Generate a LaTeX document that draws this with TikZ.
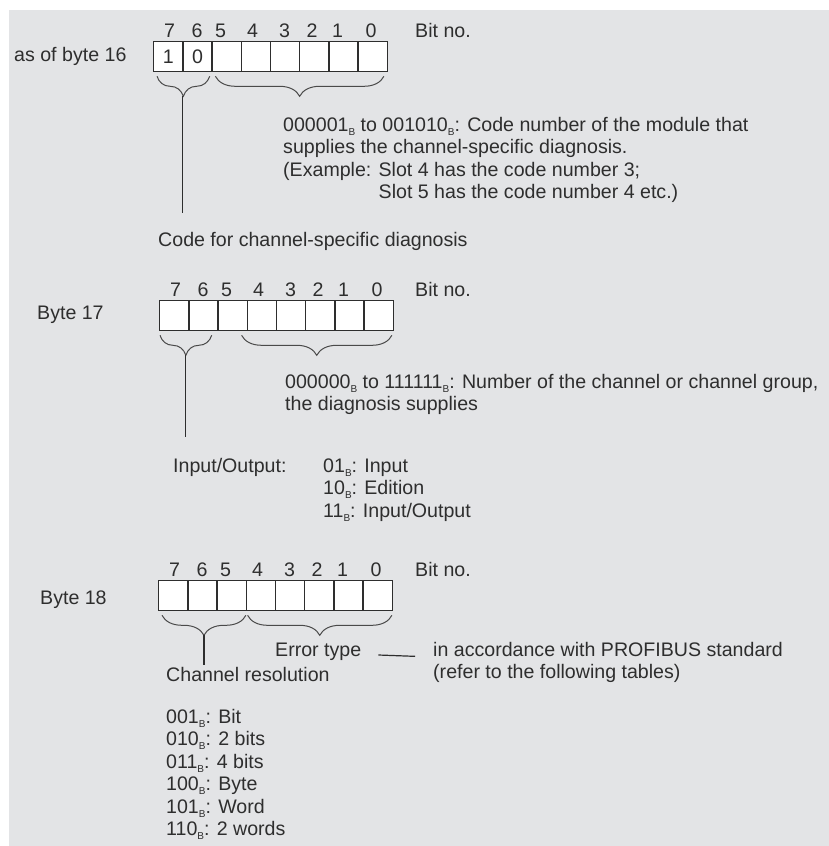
\documentclass[tikz,border=0pt]{standalone}
\usepackage{fontspec}
\setmainfont{Liberation Sans}
\usetikzlibrary{positioning,decorations.pathreplacing,calc}
\definecolor{bggray}{HTML}{E3E4E6}
\definecolor{inkgray}{HTML}{2E2E2E}
\definecolor{bracegray}{HTML}{4A4A4A}
\newcommand{\bsub}{\raisebox{-4pt}{\fontsize{10}{10}\selectfont B}}

\begin{document}
\begin{tikzpicture}[x=1pt, y=-1pt,
  txt/.style={anchor=base west, inner sep=0pt, align=left, text=inkgray,
              font=\fontsize{19.6}{22.5}\selectfont},
  bitno/.style={anchor=base, inner sep=0pt, text=inkgray,
                font=\fontsize{19.6}{22.5}\selectfont},
  cell/.style={draw=inkgray, line width=1.3pt, fill=white, anchor=north west,
               minimum width=29.2pt, minimum height=30pt, inner sep=0pt},
  brc/.style={decorate, decoration={brace, mirror, amplitude=20pt},
              draw=bracegray, line width=1pt},
  lead/.style={draw=inkgray, line width=1.2pt},
]
\useasboundingbox (0,0) rectangle (829,846);
\fill[bggray] (9,10) rectangle (829,846);

% the three bytes: cells and bit numbers
\foreach \b/\bx/\by in {16/153/41, 17/159/300, 18/158/580} {
  \foreach \i/\dx in {7/16.5, 6/44, 5/67.5, 4/99.5, 3/131.5, 2/159, 1/184.5, 0/218} {
    \node[cell] (c\b-\i) at ({\bx+29.2*(7-\i)}, \by) {};
    \node[bitno] (n\b-\i) at ({\bx+\dx}, {\by-4}) {\i};
  }
  \node[txt] (bitno\b) at (415, {\by-4}) {Bit no.};
}
\node[bitno, anchor=center] (v16-7) at (c16-7.center) {1};
\node[bitno, anchor=center] (v16-6) at (c16-6.center) {0};

% byte 16 (multi-line nodes sit on their last line)
\node[txt] (asof) at (14,61) {as of byte 16};
\draw[brc] ([shift={(4,4)}]c16-7.south west) -- ([shift={(-3,4)}]c16-6.south east);
\draw[brc] ([shift={(4,4)}]c16-5.south west) -- ([shift={(-4,4)}]c16-0.south east);
\node[txt] (desc16) at (283,198.5) {000001\bsub{} to 001010\bsub: Code number of the module that\\
  supplies the channel-specific diagnosis.\\
  (Example: Slot 4 has the code number 3;\\
  \phantom{(Example: }Slot 5 has the code number 4 etc.)};
\node[txt] (code16) at (158,246) {Code for channel-specific diagnosis};
\coordinate (tip16) at ($(c16-7.south west)!0.5!(c16-6.south east)+(0,24)$);
\coordinate (end16) at (tip16 |- 0,213);
\draw[lead] (tip16) -- (end16);

% byte 17
\node[txt] (byte17) at (37,319) {Byte 17};
\draw[brc] ([shift={(1,4)}]c17-7.south west) -- ([shift={(-7,4)}]c17-6.south east);
\draw[brc] ([shift={(-5,4)}]c17-4.south west) -- ([shift={(-2,4)}]c17-0.south east);
\node[txt] (desc17) at (285,410.5) {000000\bsub{} to 111111\bsub: Number of the channel or channel group,\\
  the diagnosis supplies};
\node[txt] (io) at (173,472) {Input/Output:};
\node[txt] (iolist) at (323,517) {01\bsub: Input\\ 10\bsub: Edition\\ 11\bsub: Input/Output};
\coordinate (tip17) at ($([xshift=1pt]c17-7.south west)!0.5!([xshift=-7pt]c17-6.south east)+(0,24)$);
\coordinate (end17) at (tip17 |- 0,437);
\draw[lead] (tip17) -- (end17);

% byte 18
\node[txt] (byte18) at (40,604) {Byte 18};
\draw[brc] ([shift={(4,4)}]c18-7.south west) -- ([shift={(-1,4)}]c18-5.south east);
\draw[brc] ([shift={(2,4)}]c18-4.south west) -- ([shift={(-1,4)}]c18-0.south east);
\node[txt] (err) at (275,656) {Error type};
\node[txt] (acc) at (433,678.5) {in accordance with PROFIBUS standard\\ (refer to the following tables)};
\draw[lead, shorten >=18pt] ([shift={(17,-1)}]err.base east) -- ([yshift=-1pt]acc.west |- err.base);
\node[txt] (res) at (166,681) {Channel resolution};
\node[txt] (reslist) at (166,835.5) {001\bsub: Bit\\ 010\bsub: 2 bits\\ 011\bsub: 4 bits\\
  100\bsub: Byte\\ 101\bsub: Word\\ 110\bsub: 2 words};
\coordinate (tip18) at ($([xshift=4pt]c18-7.south west)!0.5!([xshift=-1pt]c18-5.south east)+(0,24)$);
\coordinate (end18) at (tip18 |- 0,665);
\draw[lead] (tip18) -- (end18);
\end{tikzpicture}
\end{document}
